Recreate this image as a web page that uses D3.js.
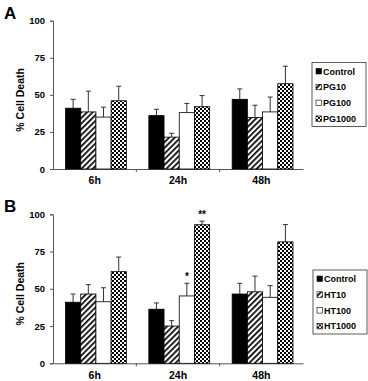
<!DOCTYPE html>
<html lang="en">
<head>
  <meta charset="UTF-8">
  <title>Cell Death</title>
  <script src="https://d3js.org/d3.v7.min.js"></script>
  <style>
    body { margin: 0; background: #fff; }
    text { font-family: "Liberation Sans", Arial, sans-serif; font-weight: bold; }
  </style>
</head>
<body>
  <div id="chart"></div>
  <script>
    const times = ["6h", "24h", "48h"];
    const yTicks = [0, 25, 50, 75, 100];

    const pgSeries = ["Control", "PG10", "PG100", "PG1000"];
    const pgMeans = [
      [41, 38.5, 35, 46],
      [36, 21.5, 38, 42],
      [47, 34.8, 38.5, 57.5]
    ];
    const pgErr = [
      [6, 14, 6.7, 9.8],
      [4.3, 2.6, 6.2, 7.5],
      [7, 8.2, 10, 11.8]
    ];

    const htSeries = ["Control", "HT10", "HT100", "HT1000"];
    const htMeans = [
      [41, 46.5, 41.3, 61.5],
      [36.3, 25, 45.2, 93],
      [46.5, 48, 44.3, 81.5]
    ];
    const htErr = [
      [5.5, 6.3, 9.4, 9.8],
      [4.2, 3.6, 8.5, 2.4],
      [7.2, 10.5, 7.8, 11.6]
    ];
    const htStars = [
      { time: "24h", series: 2, mark: "*" },
      { time: "24h", series: 3, mark: "**" }
    ];

    const svg = d3.select("#chart").append("svg")
      .attr("width", 368).attr("height", 381);

    // fill patterns
    const defs = svg.append("defs");
    const hatch = defs.append("pattern").attr("id", "hatch")
      .attr("patternUnits", "userSpaceOnUse").attr("width", 4).attr("height", 4)
      .attr("patternTransform", "rotate(45)");
    hatch.append("rect").attr("width", 4).attr("height", 4).attr("fill", "#fff");
    hatch.append("rect").attr("width", 1.7).attr("height", 4).attr("fill", "#000");

    const checker = defs.append("pattern").attr("id", "checker")
      .attr("patternUnits", "userSpaceOnUse").attr("width", 4).attr("height", 4);
    checker.append("rect").attr("width", 4).attr("height", 4).attr("fill", "#fff");
    checker.append("rect").attr("width", 2).attr("height", 2).attr("fill", "#000");
    checker.append("rect").attr("x", 2).attr("y", 2).attr("width", 2).attr("height", 2).attr("fill", "#000");

    const fills = ["#000", "url(#hatch)", "#fff", "url(#checker)"];

    function drawPanel(opt) {
      const g = svg.append("g");
      const x = d3.scaleBand().domain(times).range([53, 303]).padding(0);
      const inner = d3.scaleBand().domain(d3.range(4))
        .range([12.5, x.bandwidth() - 10]).padding(0);
      const y = d3.scaleLinear().domain([0, 100]).range([opt.bottom, opt.top]);

      // panel letter
      g.append("text").attr("x", 4).attr("y", opt.top - 2)
        .attr("font-size", 17).text(opt.letter);

      // y axis
      const yAxis = g.append("g").attr("transform", "translate(53,0)")
        .call(d3.axisLeft(y).tickValues(yTicks).tickSize(3).tickPadding(5));
      yAxis.selectAll("text").attr("font-size", 9.5).attr("font-family", null);
      yAxis.select(".domain").attr("stroke", "#555");
      yAxis.selectAll(".tick line").attr("stroke", "#555");

      g.append("text")
        .attr("transform", `translate(24,${(opt.top + opt.bottom) / 2 + 5}) rotate(-90)`)
        .attr("text-anchor", "middle").attr("font-size", 10.5)
        .text("% Cell Death");

      // x axis
      const xAxis = g.append("g").attr("transform", `translate(0,${opt.bottom})`)
        .call(d3.axisBottom(x).tickSize(0).tickPadding(8));
      xAxis.selectAll("text").attr("font-size", 10.5).attr("font-family", null);
      xAxis.select(".domain").attr("stroke", "#555");
      xAxis.selectAll(".edge").data(times.slice(0, 2)).enter().append("line")
        .attr("x1", d => x(d) + x.bandwidth()).attr("x2", d => x(d) + x.bandwidth())
        .attr("y1", 0).attr("y2", 3).attr("stroke", "#555");

      const rows = [];
      times.forEach((t, i) => opt.means[i].forEach((m, j) => {
        rows.push({ t: t, s: j, m: m, e: opt.err[i][j] });
      }));

      // error bars (upper only)
      const eb = g.selectAll(".err").data(rows).enter().append("g");
      eb.append("line")
        .attr("x1", d => x(d.t) + inner(d.s) + inner.bandwidth() / 2)
        .attr("x2", d => x(d.t) + inner(d.s) + inner.bandwidth() / 2)
        .attr("y1", d => y(d.m)).attr("y2", d => y(d.m + d.e))
        .attr("stroke", "#333").attr("stroke-width", 1);
      eb.append("line")
        .attr("x1", d => x(d.t) + inner(d.s) + inner.bandwidth() / 2 - 2.5)
        .attr("x2", d => x(d.t) + inner(d.s) + inner.bandwidth() / 2 + 2.5)
        .attr("y1", d => y(d.m + d.e)).attr("y2", d => y(d.m + d.e))
        .attr("stroke", "#333").attr("stroke-width", 1);

      g.selectAll(".bar").data(rows).enter().append("rect")
        .attr("x", d => x(d.t) + inner(d.s))
        .attr("y", d => y(d.m))
        .attr("width", inner.bandwidth())
        .attr("height", d => y(0) - y(d.m))
        .attr("fill", d => fills[d.s])
        .attr("stroke", "#000").attr("stroke-width", 0.8);

      // significance marks
      if (opt.stars) {
        g.selectAll(".star").data(opt.stars).enter().append("text")
          .attr("x", d => x(d.time) + inner(d.series) + inner.bandwidth() / 2)
          .attr("y", d => {
            const i = times.indexOf(d.time);
            return y(opt.means[i][d.series] + opt.err[i][d.series]) - 3;
          })
          .attr("text-anchor", "middle").attr("font-size", 10)
          .text(d => d.mark);
      }

      // legend
      const lg = g.append("g").attr("transform", `translate(${opt.legend[0]},${opt.legend[1]})`);
      lg.append("rect").attr("width", 54).attr("height", 64)
        .attr("fill", "#fff").attr("stroke", "#333").attr("stroke-width", 0.8);
      opt.series.forEach((s, j) => {
        const row = lg.append("g").attr("transform", `translate(4,${9 + j * 15.8})`);
        row.append("rect").attr("x", 0).attr("y", -3).attr("width", 5.5).attr("height", 5.5)
          .attr("fill", fills[j]).attr("stroke", "#000").attr("stroke-width", 0.6);
        row.append("text").attr("x", 7).attr("y", 3).attr("font-size", 9).text(s);
      });
    }

    drawPanel({
      letter: "A", top: 20.7, bottom: 169, means: pgMeans, err: pgErr,
      series: pgSeries, legend: [312, 62.5]
    });
    drawPanel({
      letter: "B", top: 214.3, bottom: 363.3, means: htMeans, err: htErr,
      series: htSeries, legend: [313, 270], stars: htStars
    });
  </script>
</body>
</html>
